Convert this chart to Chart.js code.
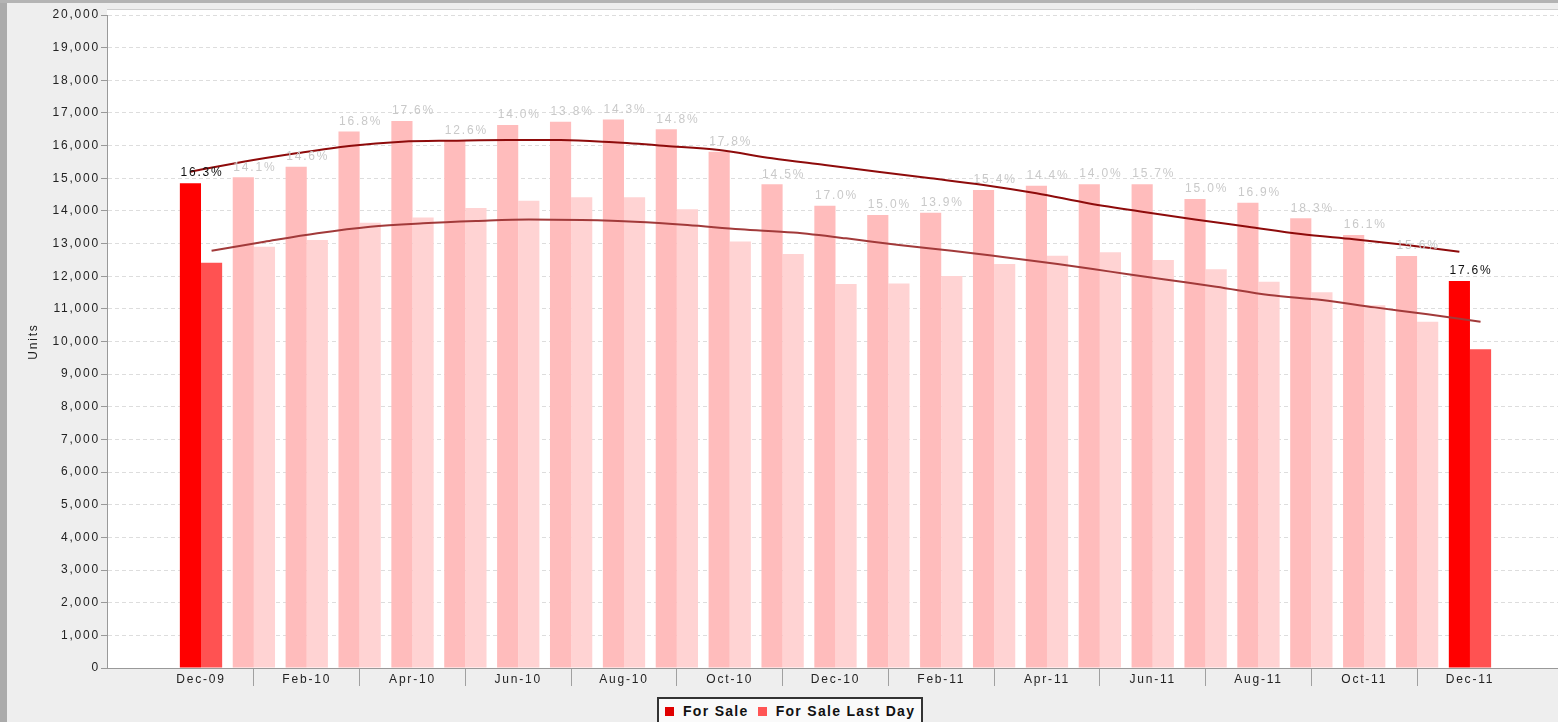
<!DOCTYPE html>
<html>
<head>
<meta charset="utf-8">
<script src="https://cdn.jsdelivr.net/npm/chart.js@4/dist/chart.umd.min.js"></script>
<style>
  html, body { margin: 0; padding: 0; background: #eeeeee; }
  body { width: 1558px; height: 722px; position: relative; overflow: hidden; font-family: "Liberation Sans", Arial, sans-serif; }
  #bord-gauche { position: absolute; left: 0; top: 0; width: 7px; height: 722px; background: #ababab; }
  #bord-haut { position: absolute; left: 0; top: 0; width: 1558px; height: 3px; background: #b4b4b4; }
  #zone { position: absolute; left: 0; top: 0; width: 1558px; height: 722px; }
  #legende {
    position: absolute; left: 657px; top: 697px; width: 266px; height: 30px;
    border: 2px solid #333; background: #fafafa;
    font: bold 14px "Liberation Sans", Arial, sans-serif; color: #111;
    display: flex; align-items: flex-start; padding-top: 4px; padding-left: 6px; box-sizing: border-box; letter-spacing: 1.3px;
  }
  #legende span.carre { display: inline-block; width: 9px; height: 9px; margin: 4px 9px 0 0; }
  #legende span.item { margin-right: 9px; display: flex; white-space: nowrap; }
</style>
</head>
<body>
<div id="zone"><canvas id="graphique"></canvas></div>
<div id="bord-gauche"></div>
<div id="bord-haut"></div>
<div id="legende">
  <span class="item"><span class="carre" style="background:#e00000"></span>For Sale</span>
  <span class="item"><span class="carre" style="background:#ff5555"></span>For Sale Last Day</span>
</div>
<script>
// Mois (axe X)
const mois = ["Dec-09", "Jan-10", "Feb-10", "Mar-10", "Apr-10", "May-10", "Jun-10", "Jul-10", "Aug-10",
  "Sep-10", "Oct-10", "Nov-10", "Dec-10", "Jan-11", "Feb-11", "Mar-11", "Apr-11", "May-11", "Jun-11",
  "Jul-11", "Aug-11", "Sep-11", "Oct-11", "Nov-11", "Dec-11"];

// Valeurs
const forSale = [14850, 15030, 15350, 16430, 16750, 16150, 16630, 16730, 16800, 16500, 15810, 14815,
  14160, 13875, 13940, 14640, 14770, 14820, 14820, 14365, 14250, 13775, 13260, 12620, 11850];
const forSaleLastDay = [12415, 12905, 13110, 13640, 13800, 14090, 14310, 14415, 14415, 14050, 13060, 12680,
  11760, 11780, 12005, 12375, 12630, 12730, 12495, 12210, 11830, 11505, 11110, 10605, 9760];
const tendanceForSale = [15200, 15505, 15765, 15990, 16120, 16150, 16170, 16170, 16100, 15990, 15865, 15610,
  15405, 15200, 15000, 14795, 14540, 14230, 13975, 13740, 13515, 13290, 13130, 12955, 12750];
const tendanceLastDay = [12780, 13055, 13315, 13515, 13620, 13690, 13740, 13720, 13670, 13570, 13435, 13335,
  13160, 12955, 12780, 12580, 12375, 12140, 11905, 11680, 11425, 11270, 11045, 10835, 10605];
const pourcentages = ["16.3%", "14.1%", "14.6%", "16.8%", "17.6%", "12.6%", "14.0%", "13.8%", "14.3%",
  "14.8%", "17.8%", "14.5%", "17.0%", "15.0%", "13.9%", "15.4%", "14.4%", "14.0%", "15.7%", "15.0%",
  "16.9%", "18.3%", "16.1%", "15.6%", "17.6%"];

const dernier = mois.length - 1;
const estMisEnAvant = (i) => i === 0 || i === dernier;

// Fond blanc de la zone de tracé + espacement des lettres
const fondPlugin = {
  id: "fond",
  beforeDraw(chart) {
    const { ctx, chartArea } = chart;
    ctx.letterSpacing = "1.8px"; // texte espacé comme sur l'original
    ctx.save();
    ctx.fillStyle = "#ffffff";
    ctx.fillRect(chartArea.left, chartArea.top - 5, chartArea.right - chartArea.left, chartArea.bottom - chartArea.top + 5);
    ctx.strokeStyle = "#cfcfcf";
    ctx.lineWidth = 1;
    ctx.beginPath();
    ctx.moveTo(chartArea.left, chartArea.top - 5.5);
    ctx.lineTo(chartArea.right, chartArea.top - 5.5);
    ctx.stroke();
    ctx.restore();
  }
};

// Pourcentages au-dessus des barres "For Sale"
const etiquettesPlugin = {
  id: "etiquettes",
  afterDatasetsDraw(chart) {
    const { ctx } = chart;
    const x = chart.scales.x;
    const y = chart.scales.y;
    ctx.save();
    ctx.font = "12px 'Liberation Sans', Arial, sans-serif";
    ctx.letterSpacing = "1.8px";
    ctx.textAlign = "center";
    ctx.textBaseline = "bottom";
    pourcentages.forEach((texte, i) => {
      ctx.fillStyle = estMisEnAvant(i) ? "#111111" : "#c9c9c9";
      ctx.fillText(texte, x.getPixelForValue(i) + 1, y.getPixelForValue(forSale[i]) - 4);
    });
    ctx.restore();
  }
};

new Chart(document.getElementById("graphique"), {
  type: "bar",
  data: {
    datasets: [
      {
        type: "line",
        label: "Tendance For Sale",
        data: tendanceForSale.map((v, i) => ({ x: i - 0.2, y: v })),
        borderColor: "#8e0b0b",
        borderWidth: 2,
        pointRadius: 0,
        cubicInterpolationMode: "monotone",
        order: 0,
      },
      {
        type: "line",
        label: "Tendance Last Day",
        data: tendanceLastDay.map((v, i) => ({ x: i + 0.2, y: v })),
        borderColor: "#a23a3a",
        borderWidth: 2,
        pointRadius: 0,
        cubicInterpolationMode: "monotone",
        order: 0,
      },
      {
        label: "For Sale",
        data: forSale.map((v, i) => ({ x: i, y: v })),
        backgroundColor: forSale.map((v, i) => (estMisEnAvant(i) ? "#ff0000" : "#ffbcbc")),
        categoryPercentage: 0.8,
        barPercentage: 1.0,
        order: 1,
      },
      {
        label: "For Sale Last Day",
        data: forSaleLastDay.map((v, i) => ({ x: i, y: v })),
        backgroundColor: forSaleLastDay.map((v, i) => (estMisEnAvant(i) ? "#ff5252" : "#ffd3d3")),
        categoryPercentage: 0.8,
        barPercentage: 1.0,
        order: 1,
      },
    ],
  },
  options: {
    responsive: true,
    maintainAspectRatio: false,
    animation: false,
    layout: { padding: { top: 15, right: 0, bottom: 0, left: 0 } },
    plugins: {
      legend: { display: false },
      tooltip: { enabled: false },
    },
    scales: {
      x: {
        type: "linear",
        offset: false,
        min: -1.778,
        max: 25.665,
        afterFit: (scale) => { scale.height = 54; },
        border: { color: "#999999" },
        grid: {
          offset: false,
          drawOnChartArea: false,
          tickLength: 18,
          color: (ctx) => {
            const v = ctx.tick ? ctx.tick.value : null;
            return v !== null && v % 2 === 1 && v > 0 && v < dernier ? "#a0a0a0" : "rgba(0,0,0,0)";
          },
        },
        ticks: {
          stepSize: 1,
          autoSkip: false,
          includeBounds: false,
          maxRotation: 0,
          padding: -14,
          color: "#222222",
          font: { size: 12, family: "'Liberation Sans', Arial, sans-serif" },
          callback: (valeur) => (Number.isInteger(valeur) && valeur >= 0 && valeur <= dernier && valeur % 2 === 0 ? mois[valeur] : ""),
        },
      },
      y: {
        min: 0,
        max: 20000,
        afterFit: (scale) => { scale.width = 107; },
        border: { color: "#999999", dash: [4, 3] },
        grid: {
          color: (ctx) => (ctx.tick && ctx.tick.value === 0 ? "rgba(0,0,0,0)" : "#dddddd"),
          tickColor: "#999999",
          tickLength: 6,
          tickBorderDash: [],
        },
        ticks: {
          stepSize: 1000,
          padding: 1,
          color: "#222222",
          font: { size: 12, family: "'Liberation Sans', Arial, sans-serif" },
          callback: (valeur) => valeur.toLocaleString("en-US"),
        },
        title: {
          display: true,
          text: "Units",
          color: "#222222",
          font: { size: 12, family: "'Liberation Sans', Arial, sans-serif" },
          padding: { top: 26, bottom: 0 },
        },
      },
    },
  },
  plugins: [fondPlugin, etiquettesPlugin],
});
</script>
</body>
</html>
